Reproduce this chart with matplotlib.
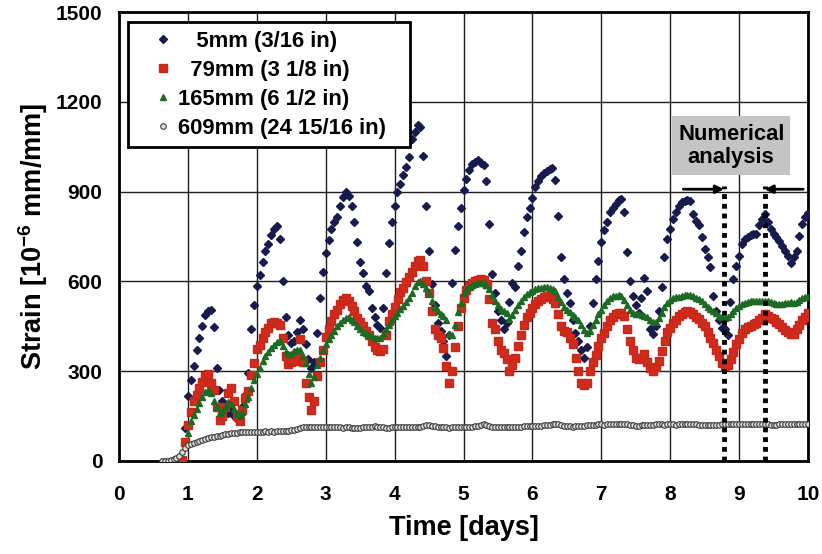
import numpy as np
import matplotlib
matplotlib.use("Agg")
import matplotlib.pyplot as plt
from matplotlib.patches import Rectangle

# ---- measured strain, hourly readings [1e-6 mm/mm] ----
# 5 mm depth, first reading at day 0.958
t0_5mm = 0.958
strain_5mm = [
    110,
    216, 270, 316, 372, 410, 451, 487, 501, 505, 449, 312, 238, 200, 175, 160, 170, 150, 140, 155, 180, 221, 295, 440, 520,
    585, 620, 665, 700, 725, 755, 775, 784, 740, 600, 480, 420, 395, 400, 430, 471, 440, 390, 340, 310, 330, 428, 546, 632,
    695, 739, 775, 800, 815, 851, 882, 898, 885, 851, 800, 730, 665, 628, 585, 568, 511, 480, 455, 445, 511, 628, 728, 798,
    851, 898, 926, 954, 982, 1016, 1077, 1100, 1122, 1117, 1019, 853, 702, 590, 520, 460, 434, 400, 352, 420, 596, 706, 786, 845,
    904, 943, 971, 993, 1000, 1004, 995, 988, 937, 792, 624, 560, 500, 470, 440, 460, 530, 596, 580, 650, 700, 765, 815, 845,
    877, 915, 935, 952, 963, 970, 975, 978, 940, 820, 680, 607, 560, 529, 470, 428, 400, 370, 345, 380, 450, 529, 607, 668,
    730, 773, 800, 831, 845, 859, 872, 876, 831, 697, 600, 551, 520, 495, 543, 610, 568, 440, 425, 450, 500, 580, 680, 742,
    775, 809, 831, 853, 865, 870, 873, 868, 825, 803, 790, 750, 708, 680, 647, 551, 500, 470, 445, 440, 420, 530, 607, 652,
    686, 725, 742, 750, 755, 757, 759, 790, 809, 826, 800, 775, 760, 748, 735, 719, 700, 686, 660, 680, 702, 752, 792, 815,
    830,
]

# 79 mm depth, first reading at day 0.917
t0_79mm = 0.917
strain_79mm = [
    3, 64,
    120, 163, 199, 220, 244, 265, 283, 290, 262, 238, 180, 138, 150, 182, 227, 243, 200, 150, 133, 171, 210, 234, 288, 328,
    375, 389, 410, 430, 445, 460, 465, 462, 455, 410, 350, 325, 330, 333, 360, 406, 330, 260, 215, 170, 200, 283, 330, 372,
    415, 440, 467, 490, 505, 525, 538, 545, 535, 518, 500, 479, 465, 450, 435, 420, 400, 380, 370, 367, 375, 420, 467, 490,
    515, 540, 563, 578, 598, 615, 630, 652, 668, 672, 650, 600, 560, 500, 440, 420, 410, 378, 316, 260, 300, 380, 450, 512,
    545, 570, 585, 595, 600, 605, 607, 606, 590, 540, 460, 440, 400, 372, 360, 340, 300, 320, 345, 384, 420, 455, 480, 496,
    510, 523, 533, 540, 548, 551, 548, 540, 529, 490, 450, 435, 430, 410, 390, 345, 300, 262, 255, 262, 300, 330, 355, 384,
    410, 428, 450, 470, 480, 490, 496, 496, 484, 440, 400, 372, 345, 340, 345, 356, 330, 310, 300, 315, 335, 367, 400, 430,
    445, 462, 472, 484, 492, 498, 500, 497, 490, 482, 473, 462, 451, 432, 410, 395, 372, 350, 328, 318, 322, 340, 365, 390,
    406, 428, 440, 448, 452, 456, 462, 470, 479, 490, 484, 478, 473, 466, 458, 448, 438, 430, 425, 425, 440, 455, 470, 482,
    496,
]

# 165 mm depth, first reading at day 1.0
t0_165mm = 1.0
strain_165mm = [
    95, 135, 154, 175, 195, 215, 230, 238, 226, 200, 180, 160, 168, 182, 198, 190, 175, 160, 149, 165, 190, 215, 244, 270,
    290, 312, 335, 350, 365, 378, 388, 398, 400, 385, 365, 356, 358, 368, 372, 372, 350, 328, 290, 262, 280, 320, 345, 372,
    392, 408, 420, 435, 450, 462, 472, 478, 480, 472, 465, 450, 442, 432, 428, 422, 417, 412, 410, 412, 425, 440, 455, 470,
    485, 496, 507, 518, 530, 545, 560, 583, 598, 602, 592, 578, 560, 535, 515, 500, 490, 486, 470, 425, 420, 455, 498, 529,
    560, 575, 582, 588, 592, 594, 596, 593, 588, 574, 556, 535, 520, 508, 500, 494, 476, 488, 505, 520, 535, 548, 557, 565,
    569, 574, 577, 579, 580, 580, 579, 575, 568, 548, 530, 515, 505, 497, 488, 482, 470, 455, 438, 426, 435, 455, 472, 490,
    505, 520, 535, 545, 550, 552, 553, 551, 538, 520, 505, 495, 490, 492, 488, 484, 480, 472, 465, 463, 478, 495, 515, 528,
    537, 543, 547, 549, 551, 553, 554, 553, 550, 546, 540, 533, 525, 515, 507, 500, 494, 486, 481, 478, 482, 490, 500, 510,
    519, 524, 528, 531, 533, 535, 536, 535, 536, 535, 534, 530, 528, 525, 523, 524, 527, 529, 530, 528, 532, 539, 544, 547,
    549,
]

# 609 mm depth, first reading at day 0.625
t0_609mm = 0.625
strain_609mm = [
    0, 0, 0, 2, 5, 9, 17, 31, 45,
    54, 57, 60, 64, 67, 70, 73, 76, 79, 81, 83, 85, 87, 89, 91, 93, 94, 95, 96, 97, 97, 98, 98, 98,
    98, 98, 98, 99, 98, 99, 98, 99, 99, 100, 101, 100, 102, 104, 106, 110, 114, 115, 115, 114, 115, 114, 113, 113,
    113, 112, 112, 113, 112, 112, 111, 112, 112, 111, 110, 111, 111, 112, 113, 112, 114, 116, 115, 113, 112, 111, 111, 112,
    112, 112, 113, 113, 112, 113, 112, 112, 113, 115, 117, 119, 121, 118, 116, 114, 113, 112, 112, 111, 112, 112, 113, 113,
    114, 113, 114, 115, 116, 118, 120, 122, 121, 118, 115, 113, 113, 112, 112, 113, 114, 114, 115, 114, 115, 116, 116, 117,
    118, 117, 118, 118, 119, 120, 121, 123, 124, 122, 119, 117, 116, 116, 115, 116, 117, 118, 118, 119, 120, 121, 121, 122,
    122, 121, 122, 122, 122, 123, 124, 125, 124, 122, 120, 119, 118, 118, 119, 120, 120, 121, 121, 122, 122, 122, 121, 122,
    122, 122, 121, 122, 122, 123, 123, 124, 124, 123, 121, 120, 119, 119, 120, 120, 121, 121, 122, 122, 122, 122, 123, 123,
    123, 123, 124, 124, 124, 125, 125, 125, 124, 123, 122, 121, 121, 121, 122, 122, 122, 123, 123, 123, 123, 124, 124, 124,
    124,
]

series_labels = ["   5mm (3/16 in)", "  79mm (3 1/8 in)", "165mm (6 1/2 in)", "609mm (24 15/16 in)"]
x_ticks = list(range(0, 11))
y_ticks = [0, 300, 600, 900, 1200, 1500]

# time window used for the numerical analysis (days)
analysis_start = 8.78
analysis_end = 9.37


def hourly(t0, values):
    return t0 + np.arange(len(values)) / 24.0


plt.rcParams['font.family'] = ['Liberation Sans', 'DejaVu Sans']
plt.rcParams['font.weight'] = 'bold'
plt.rcParams['mathtext.fontset'] = 'custom'
plt.rcParams['mathtext.rm'] = 'Liberation Sans:bold'
plt.rcParams['mathtext.bf'] = 'Liberation Sans:bold'
plt.rcParams['mathtext.default'] = 'bf'

fig = plt.figure(figsize=(8.22, 5.54), dpi=100)
ax = fig.add_axes([0.1448, 0.1679, 0.9830 - 0.1448, 0.9783 - 0.1679])

ax.plot(hourly(t0_5mm, strain_5mm), strain_5mm, ls='none', marker='D', ms=3.8,
        color='#161a4c', mec='#161a4c', label=series_labels[0], zorder=4)
ax.plot(hourly(t0_79mm, strain_79mm), strain_79mm, ls='none', marker='s', ms=5.2,
        color='#d12b1c', mec='#c8281a', label=series_labels[1], zorder=5)
ax.plot(hourly(t0_165mm, strain_165mm), strain_165mm, ls='none', marker='^', ms=5.0,
        color='#1c6a24', mec='#1c6a24', label=series_labels[2], zorder=6)
ax.plot(hourly(t0_609mm, strain_609mm), strain_609mm, ls='none', marker='o', ms=4.0,
        mfc='#dedede', mec='#3a3a3a', mew=0.8, label=series_labels[3], zorder=7)

ax.set_xlim(0, 10)
ax.set_ylim(0, 1500)
ax.set_xticks(x_ticks)
ax.set_yticks(y_ticks)
ax.tick_params(length=0, labelsize=15)
ax.tick_params(axis='x', pad=17)
ax.tick_params(axis='y', pad=12)
for lbl in ax.get_xticklabels() + ax.get_yticklabels():
    lbl.set_fontweight('bold')

ax.grid(True, color='#1e1e1e', lw=1.0)
ax.set_axisbelow(True)
for sp in ax.spines.values():
    sp.set_linewidth(2.0)
    sp.set_color('black')

ax.set_xlabel('Time [days]', fontsize=19.5, fontweight='bold')
ax.xaxis.label.set_va('center')
ax.xaxis.set_label_coords(0.5, -0.149)
ax.set_ylabel('Strain [10$^{-6}$ mm/mm]', fontsize=19.5, fontweight='bold')
ax.yaxis.label.set_va('center')
ax.yaxis.set_label_coords(-0.125, 0.5)

# legend box drawn as a plain rectangle, entries placed inside it
ax.add_patch(Rectangle((0.013, 0.699), 0.4095, 0.279, transform=ax.transAxes,
                       facecolor='white', edgecolor='black', lw=2.0, zorder=9))
leg = ax.legend(loc='upper left', bbox_to_anchor=(0.048, 0.958), frameon=False,
                prop={'size': 15.8, 'weight': 'bold'}, handlelength=1.0, handletextpad=0.2,
                borderpad=0, borderaxespad=0, labelspacing=0.36, numpoints=1)
leg.set_zorder(10)

# numerical analysis window
ax.add_patch(Rectangle((8.03, 955), 1.71, 197, facecolor='#c4c4c4', edgecolor='none', zorder=8))
ax.text(8.885, 1053, 'Numerical\nanalysis', ha='center', va='center', fontsize=15.8,
        fontweight='bold', linespacing=1.15, zorder=9)
arrow_y = 908
ax.annotate('', xy=(analysis_start, arrow_y), xytext=(8.19, arrow_y),
            arrowprops=dict(arrowstyle='-|>', lw=2, color='black', mutation_scale=12,
                            shrinkA=0, shrinkB=0), zorder=9)
ax.annotate('', xy=(analysis_end, arrow_y), xytext=(9.93, arrow_y),
            arrowprops=dict(arrowstyle='-|>', lw=2, color='black', mutation_scale=12,
                            shrinkA=0, shrinkB=0), zorder=9)
for xv in (analysis_start, analysis_end):
    ax.plot([xv, xv], [0, 920], color='black', lw=3.5, ls=(0, (1, 1)),
            dash_capstyle='butt', zorder=9)

fig.savefig('out.png', dpi=100)
